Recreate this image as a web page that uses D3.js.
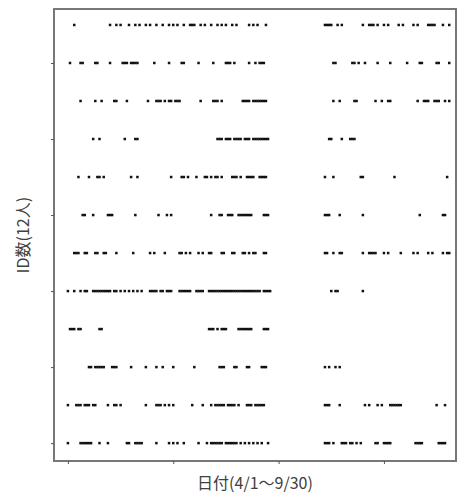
<!DOCTYPE html>
<html>
<head>
<meta charset="utf-8">
<script src="https://cdn.jsdelivr.net/npm/d3@7"></script>
<style>
  html, body { margin: 0; padding: 0; background: #fff; }
  svg { display: block; }
</style>
</head>
<body>
<div id="chart"></div>
<script>
// days since 4/1 on which each ID was seen (top row first)
const id01 = [3, 20, 23, 25, 29, 32, 34, 37, 39, 42, 45, 48, 50, 52, 55, 58, 59, 60, 63, 65, 68, 71, 73, 75, 78, 80, 86, 88, 90, 94,
  122, 123, 124, 125, 128, 130, 140, 143, 144, 145, 147, 150, 152, 157, 159, 164, 166, 171, 172, 173, 174, 178, 181];
const id02 = [1, 6, 7, 13, 14, 20, 26, 27, 28, 30, 31, 32, 33, 41, 48, 54, 55, 62, 69, 75, 76, 77, 79, 86, 89, 91, 92, 93,
  126, 127, 135, 136, 138, 141, 147, 153, 161, 167, 168, 175, 176, 181];
const id03 = [6, 13, 16, 22, 23, 28, 38, 42, 43, 44, 46, 48, 49, 51, 52, 53, 63, 69, 70, 71, 73, 83, 84, 85, 86, 88, 89, 90, 91, 92, 93, 94,
  126, 129, 136, 137, 146, 149, 152, 153, 166, 169, 170, 171, 174, 175, 176, 179, 181];
const id04 = [12, 15, 27, 32, 33, 71, 72, 73, 75, 76, 77, 79, 80, 81, 82, 84, 85, 86, 88, 89, 90, 91, 92, 93, 94, 95,
  124, 125, 130, 134, 135, 136];
const id05 = [5, 10, 14, 15, 17, 30, 33, 49, 54, 55, 57, 61, 65, 66, 68, 70, 71, 73, 78, 79, 80, 82, 85, 88, 86, 87, 91, 92, 93, 94,
  122, 126, 139, 140, 155, 180];
const id06 = [7, 8, 12, 19, 20, 21, 32, 43, 47, 49, 68, 72, 73, 76, 77, 78, 81, 82, 83, 84, 85, 86, 87, 93, 94, 95,
  122, 123, 124, 129, 140, 167, 178, 179];
const id07 = [3, 4, 5, 8, 9, 13, 14, 17, 18, 23, 31, 39, 41, 46, 53, 54, 56, 58, 62, 64, 67, 68, 73, 74, 78, 79, 83, 84, 86, 88, 89, 93, 94,
  122, 123, 126, 129, 130, 140, 143, 144, 145, 146, 150, 152, 158, 164, 166, 171, 173, 178, 180, 181];
const id08 = [0, 3, 6, 8, 9, 12, 13, 14, 15, 16, 17, 18, 19, 20, 22, 23, 25, 27, 29, 31, 33, 35, 39, 40, 41, 42, 44, 45, 47, 48, 49,
  53, 54, 55, 56, 57, 58, 61, 62, 63, 64, 67, 68, 69, 70, 71, 72, 73, 74, 75, 76, 77, 78, 79, 80, 81, 82, 83, 84, 85, 86, 87, 88,
  89, 90, 91, 93, 94, 95, 96, 125, 127, 128, 140];
const id09 = [1, 2, 3, 5, 6, 15, 16, 67, 68, 69, 71, 73, 74, 75, 81, 82, 83, 84, 85, 86, 87, 93, 94, 95];
const id10 = [10, 11, 13, 14, 15, 16, 17, 21, 22, 23, 30, 37, 42, 45, 50, 60, 72, 73, 74, 79, 80, 85, 86, 92, 93, 94,
  122, 124, 127, 129];
const id11 = [0, 4, 5, 6, 8, 9, 10, 12, 13, 19, 22, 23, 25, 37, 42, 43, 44, 46, 48, 50, 59, 64, 68, 70, 71, 72, 73, 74, 76, 77, 78, 79, 81,
  85, 86, 87, 89, 90, 91, 92, 93, 122, 123, 124, 129, 141, 143, 147, 149, 153, 154, 155, 156, 157, 158, 175, 179];
const id12 = [0, 6, 7, 8, 9, 10, 11, 15, 19, 28, 29, 32, 33, 34, 35, 42, 48, 50, 52, 55, 62, 66, 68, 69, 70, 71, 72, 73, 75, 76, 77,
  78, 79, 80, 82, 84, 86, 88, 90, 92, 95, 122, 123, 124, 126, 130, 131, 132, 134, 135, 137, 139, 146, 147, 150, 151, 152, 153,
  165, 166, 167, 168, 176, 177, 178, 179];

const ids = [id01, id02, id03, id04, id05, id06, id07, id08, id09, id10, id11, id12];
const xTicks = [0, 50, 100, 150];
const yTicks = [0, 2, 4, 6, 8, 10];
const xLabel = "日付(4/1～9/30)";
const yLabel = "ID数(12人)";

const width = 464, height = 500;
const margin = { top: 9, right: 8, bottom: 39, left: 54 };

const svg = d3.select("#chart").append("svg")
  .attr("width", width)
  .attr("height", height)
  .attr("font-family", "'Noto Sans CJK JP', 'Noto Sans', sans-serif");

const x = d3.scaleLinear()
  .domain([-6.6, 184.2])
  .range([margin.left, width - margin.right]);

// bottom row is 0, top row is 11
const y = d3.scaleLinear()
  .domain([-0.47, 11.42])
  .range([height - margin.bottom, margin.top]);

const points = ids.flatMap((days, i) =>
  days.map((d) => ({ day: d, row: ids.length - 1 - i }))
);

svg.append("g")
  .attr("class", "dots")
  .selectAll("rect")
  .data(points)
  .enter()
  .append("rect")
  .attr("x", (d) => x(d.day) - 1.25)
  .attr("y", (d) => y(d.row) - 1.25)
  .attr("width", 2.5)
  .attr("height", 2.5)
  .attr("fill", "#111");

// frame
svg.append("rect")
  .attr("x", margin.left)
  .attr("y", margin.top)
  .attr("width", width - margin.left - margin.right)
  .attr("height", height - margin.top - margin.bottom)
  .attr("fill", "none")
  .attr("stroke", "#777")
  .attr("stroke-width", 2);

const ax = d3.axisBottom(x).tickValues(xTicks).tickSize(3).tickFormat("");
const ay = d3.axisLeft(y).tickValues(yTicks).tickSize(3).tickFormat("");

svg.append("g")
  .attr("transform", `translate(0,${height - margin.bottom})`)
  .call(ax)
  .call((g) => g.select(".domain").remove())
  .call((g) => g.selectAll("line").attr("stroke", "#555"));

svg.append("g")
  .attr("transform", `translate(${margin.left},0)`)
  .call(ay)
  .call((g) => g.select(".domain").remove())
  .call((g) => g.selectAll("line").attr("stroke", "#555"));

svg.append("text")
  .attr("x", (margin.left + width - margin.right) / 2)
  .attr("y", 489)
  .attr("text-anchor", "middle")
  .attr("font-size", 16)
  .attr("fill", "#404040")
  .text(xLabel);

svg.append("text")
  .attr("transform", `translate(29,${(margin.top + height - margin.bottom) / 2}) rotate(-90)`)
  .attr("text-anchor", "middle")
  .attr("font-size", 16)
  .attr("fill", "#404040")
  .text(yLabel);
</script>
</body>
</html>
